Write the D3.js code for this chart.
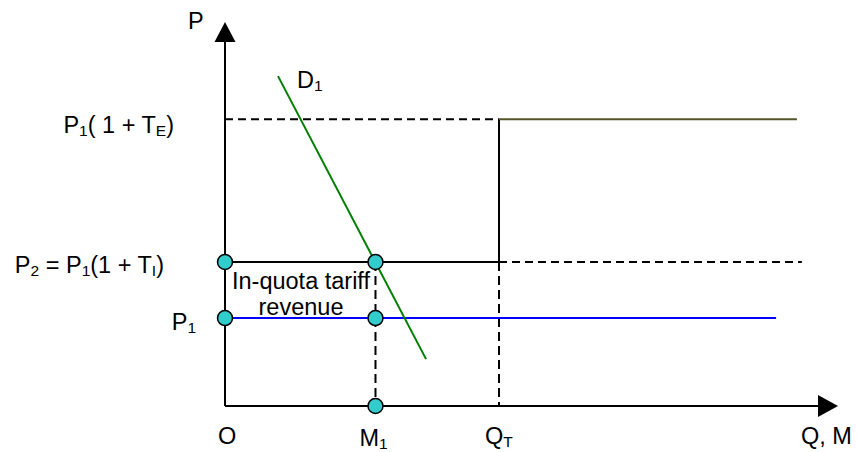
<!DOCTYPE html>
<html>
<head>
<meta charset="utf-8">
<script src="https://cdn.jsdelivr.net/npm/d3@7"></script>
<style>
  body { margin: 0; background: #fff; }
  svg text { font-family: "Liberation Sans", Arial, sans-serif; font-size: 23.5px; fill: #000; }
</style>
</head>
<body>
<svg id="chart" width="857" height="452"></svg>
<script>
// price levels (y) and quantities (x), in chart units 0..100
const priceNames = ['P1', 'P2', 'PE'];
const priceValues = [22.9, 37.5, 74.7];
const qtyNames = ['O', 'M1', 'QT'];
const qtyValues = [0, 24.55, 44.7];

// demand curve D1 end points
const demandX = [8.65, 32.8];
const demandY = [85.9, 12.2];

// where the horizontal lines stop on the right
const lineEnds = [89.9, 94.1, 93.3];   // P1 blue, P2 dashed, PE olive

const P1 = priceValues[0], P2 = priceValues[1], PE = priceValues[2];
const M1 = qtyValues[1], QT = qtyValues[2];

const svg = d3.select('#chart');

const xScale = d3.scaleLinear().domain([0, 100]).range([225, 838]);
const yScale = d3.scaleLinear().domain([0, 100]).range([406, 22]);

const line = d3.line().x(d => xScale(d[0])).y(d => yScale(d[1]));

const segs = [
  // dashed guides
  { pts: [[0, PE], [QT, PE]], color: '#000', dash: '8,5' },
  { pts: [[QT, P2], [lineEnds[1], P2]], color: '#000', dash: '8,5' },
  { pts: [[M1, P2], [M1, 0]], color: '#000', dash: '9,5' },
  { pts: [[QT, P2], [QT, 0]], color: '#000', dash: '9,5' },
  // solid lines
  { pts: [[0, P2], [QT, P2]], color: '#000' },
  { pts: [[QT, P2], [QT, PE]], color: '#000' },
  { pts: [[QT, PE], [lineEnds[2], PE]], color: '#55552a' },
  { pts: [[0, P1], [lineEnds[0], P1]], color: '#0000ff' },
  { pts: [[demandX[0], demandY[0]], [demandX[1], demandY[1]]], color: '#008000' }
];

svg.selectAll('path.seg')
  .data(segs)
  .enter().append('path')
    .attr('class', 'seg')
    .attr('d', d => line(d.pts))
    .attr('fill', 'none')
    .attr('stroke', d => d.color)
    .attr('stroke-width', 2)
    .attr('stroke-dasharray', d => d.dash || null);

// axes
svg.append('path')
  .attr('d', line([[0, 0], [0, 95]]))
  .attr('stroke', '#000').attr('stroke-width', 2).attr('fill', 'none');
svg.append('path')
  .attr('d', line([[0, 0], [97, 0]]))
  .attr('stroke', '#000').attr('stroke-width', 2).attr('fill', 'none');

// arrow heads
const yTop = yScale(100), xTip = xScale(100);
svg.append('path')
  .attr('d', `M${xScale(0)},${yTop} L${xScale(0) - 10.5},${yTop + 20} L${xScale(0) + 10.5},${yTop + 20} Z`)
  .attr('fill', '#000');
svg.append('path')
  .attr('d', `M${xTip},${yScale(0)} L${xTip - 20},${yScale(0) - 11} L${xTip - 20},${yScale(0) + 11} Z`)
  .attr('fill', '#000');

// circles
const dots = [[0, P2], [0, P1], [M1, P2], [M1, P1], [M1, 0]];
svg.selectAll('circle')
  .data(dots)
  .enter().append('circle')
    .attr('cx', d => xScale(d[0]))
    .attr('cy', d => yScale(d[1]))
    .attr('r', 7.5)
    .attr('fill', '#33cccc')
    .attr('stroke', '#000')
    .attr('stroke-width', 1.5);

// text with subscripts: parts = [[text, isSub], ...]
function label(x, y, anchor, parts) {
  const t = svg.append('text').attr('x', x).attr('y', y).attr('text-anchor', anchor);
  let down = false;
  parts.forEach(p => {
    const s = t.append('tspan').text(p[0]);
    if (p[1] && !down) { s.attr('font-size', 15.5).attr('dy', 3); down = true; }
    else if (!p[1] && down) { s.attr('dy', -3); down = false; }
    else if (p[1]) s.attr('font-size', 15.5);
  });
  return t;
}

label(188, 29, 'start', [['P']]);
label(297, 88, 'start', [['D'], ['1', true]]);
label(174, yScale(PE) + 14, 'end', [['P'], ['1', true], ['( 1 + T'], ['E', true], [')']]);
label(164, yScale(P2) + 11, 'end', [['P'], ['2', true], [' = P'], ['1', true], ['(1 + T'], ['I', true], [')']]);
label(196, yScale(P1) + 12, 'end', [['P'], ['1', true]]);

label(xScale(0) - 7, 444, 'start', [[qtyNames[0]]]);
label(xScale(M1) - 16, 446, 'start', [['M'], ['1', true]]);
label(xScale(QT) - 14, 444, 'start', [['Q'], ['T', true]]);
label(801, 444, 'start', [['Q, M']]);

label(301, 289, 'middle', [['In-quota tariff']]);
label(301, 315, 'middle', [['revenue']]);
</script>
</body>
</html>
